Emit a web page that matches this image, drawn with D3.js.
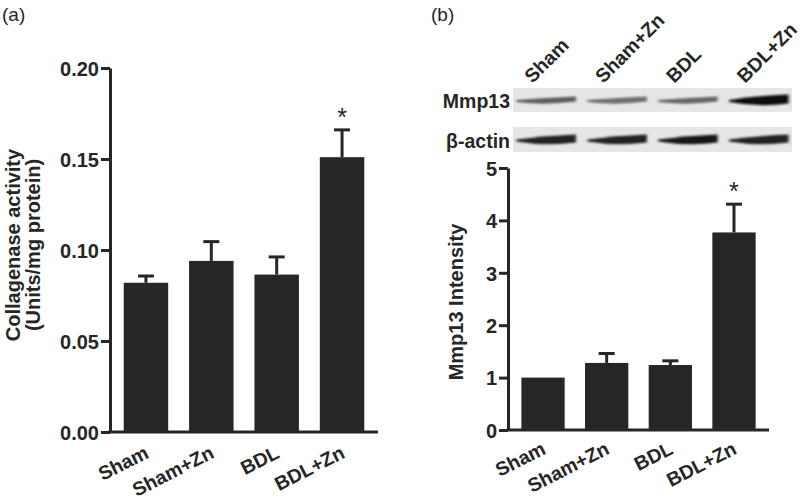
<!DOCTYPE html>
<html><head><meta charset="utf-8">
<script src="https://cdn.jsdelivr.net/npm/d3@7"></script>
<style>body{margin:0;background:#fff}svg{display:block}text{font-family:"Liberation Sans",Arial,sans-serif}</style>
</head><body>
<svg id="c" width="800" height="500"></svg>
<script>
const categories = ["Sham","Sham+Zn","BDL","BDL+Zn"];
const collagenaseMean = [0.082, 0.094, 0.0865, 0.151];
const collagenaseSem = [0.0037, 0.0106, 0.0097, 0.015];
const collagenaseTicks = ["0.00","0.05","0.10","0.15","0.20"];
const mmpMean = [1.0, 1.28, 1.24, 3.77];
const mmpSem = [0, 0.18, 0.08, 0.54];
const mmpTicks = [0,1,2,3,4,5];
const significant = [false,false,false,true];
const blotRows = ["Mmp13","β-actin"];
const mmpBand = [0.55, 0.45, 0.5, 1.0];
const actinBand = [0.9, 0.9, 0.95, 0.9];

const svg = d3.select("#c");
const ink = "#262626";
const FS = 20;

function panel(o){
  const g = svg.append("g");
  const x = d3.scaleBand().domain(categories).range([o.x0, o.x1]).paddingInner(0.32).paddingOuter(0.21);
  const y = d3.scaleLinear().domain(o.domain).range([o.y0, o.y1]);
  g.selectAll("rect.bar").data(categories).join("rect")
    .attr("x", d=>x(d)).attr("width", x.bandwidth())
    .attr("y", (d,i)=>y(o.mean[i])).attr("height",(d,i)=>y(0)-y(o.mean[i]))
    .attr("fill", ink);
  categories.forEach((c,i)=>{
    if(!o.sem[i]) return;
    const cx = x(c)+x.bandwidth()/2;
    g.append("line").attr("x1",cx).attr("x2",cx).attr("y1",y(o.mean[i])).attr("y2",y(o.mean[i]+o.sem[i]))
      .attr("stroke",ink).attr("stroke-width",3);
    g.append("line").attr("x1",cx-8).attr("x2",cx+8).attr("y1",y(o.mean[i]+o.sem[i])).attr("y2",y(o.mean[i]+o.sem[i]))
      .attr("stroke",ink).attr("stroke-width",3);
    if(significant[i]){
      g.append("text").attr("x",cx).attr("y",y(o.mean[i]+o.sem[i])-4).attr("text-anchor","middle")
        .attr("font-size",25).attr("fill",ink).text("*");
    }
  });
  const ya = d3.axisLeft(y).tickValues(o.tickVals).tickFormat((d,i)=>o.tickLabels[i]).tickSize(9).tickSizeOuter(0).tickPadding(2);
  const yg = g.append("g").attr("transform",`translate(${o.x0},0)`).call(ya);
  yg.select(".domain").attr("stroke",ink).attr("stroke-width",3);
  yg.selectAll(".tick line").attr("stroke",ink).attr("stroke-width",3);
  yg.selectAll(".tick text").attr("font-size",FS).attr("font-weight","bold").attr("fill",ink)
    .attr("font-family",'"Liberation Sans",Arial,sans-serif').attr("dy","0.36em");
  g.append("line").attr("x1",o.x0-1.5).attr("x2",o.x1).attr("y1",y(0)).attr("y2",y(0)).attr("stroke",ink).attr("stroke-width",3);
  categories.forEach(c=>{
    const cx = x(c)+x.bandwidth()/2 + 4;
    g.append("text").attr("transform",`translate(${cx},${y(0)+o.labOff}) rotate(-27)`)
      .attr("text-anchor","end").attr("font-size",FS-0.5).attr("font-weight","bold").attr("fill",ink).text(c);
  });
  o.title.forEach((t,k)=>{
    g.append("text").attr("transform",`translate(${o.titleX[k]},${o.titleY}) rotate(-90)`)
      .attr("text-anchor","middle").attr("font-size",FS).attr("font-weight","bold").attr("fill",ink).text(t);
  });
  return {x,y};
}

panel({x0:110, x1:378, y0:432, y1:68, domain:[0,0.2], mean:collagenaseMean, sem:collagenaseSem,
  tickVals:[0,0.05,0.1,0.15,0.2], tickLabels:collagenaseTicks, labOff:25,
  title:["Collagenase activity","(Units/mg protein)"], titleX:[20,40], titleY:245});

panel({x0:508, x1:769, y0:430, y1:168, domain:[0,5], mean:mmpMean, sem:mmpSem,
  tickVals:mmpTicks, tickLabels:mmpTicks.map(String), labOff:23,
  title:["Mmp13 Intensity"], titleX:[463], titleY:302});

svg.append("text").attr("x",2).attr("y",21).attr("font-size",19).attr("fill",ink).text("(a)");
svg.append("text").attr("x",431).attr("y",21).attr("font-size",19).attr("fill",ink).text("(b)");

const defs = svg.append("defs");
const blur = defs.append("filter").attr("id","bl").attr("x","-20%").attr("y","-100%").attr("width","140%").attr("height","300%");
blur.append("feGaussianBlur").attr("stdDeviation","1.6 1.2");
const lane = d3.scaleBand().domain(categories).range([515,790]).paddingInner(0.16).paddingOuter(0.02);
const rows = [{name:blotRows[0], y0:88, y1:112, band:mmpBand, thick:[5,5,5,9]},
              {name:blotRows[1], y0:127, y1:152, band:actinBand, thick:[8,8,8,8]}];
rows.forEach(r=>{
  svg.append("rect").attr("x",513).attr("y",r.y0).attr("width",279).attr("height",r.y1-r.y0).attr("fill","#e6e6e6");
  const cy = (r.y0+r.y1)/2 + 1;
  categories.forEach((c,i)=>{
    const x0 = lane(c), w = lane.bandwidth(), t = r.thick[i];
    const col = d3.interpolateRgb("#bdbdbd","#0e0e0e")(r.band[i]);
    const p = d3.path();
    p.moveTo(x0, cy-1);
    p.quadraticCurveTo(x0+w/2, cy-t/2-1, x0+w, cy-t/2-2);
    p.lineTo(x0+w, cy+t/2-2);
    p.quadraticCurveTo(x0+w/2, cy+t/2+2, x0, cy+1);
    p.closePath();
    svg.append("path").attr("d",p.toString()).attr("fill",col).attr("filter","url(#bl)");
  });
  svg.append("text").attr("x",510).attr("y",cy+7).attr("text-anchor","end").attr("font-size",FS-0.5)
    .attr("font-weight","bold").attr("fill",ink).text(r.name);
});
categories.forEach(c=>{
  const sx = lane(c)+16;
  svg.append("text").attr("transform",`translate(${sx},84) rotate(-45)`).attr("font-size",FS-0.5)
    .attr("font-weight","bold").attr("fill",ink).text(c);
});
</script>
</body></html>
